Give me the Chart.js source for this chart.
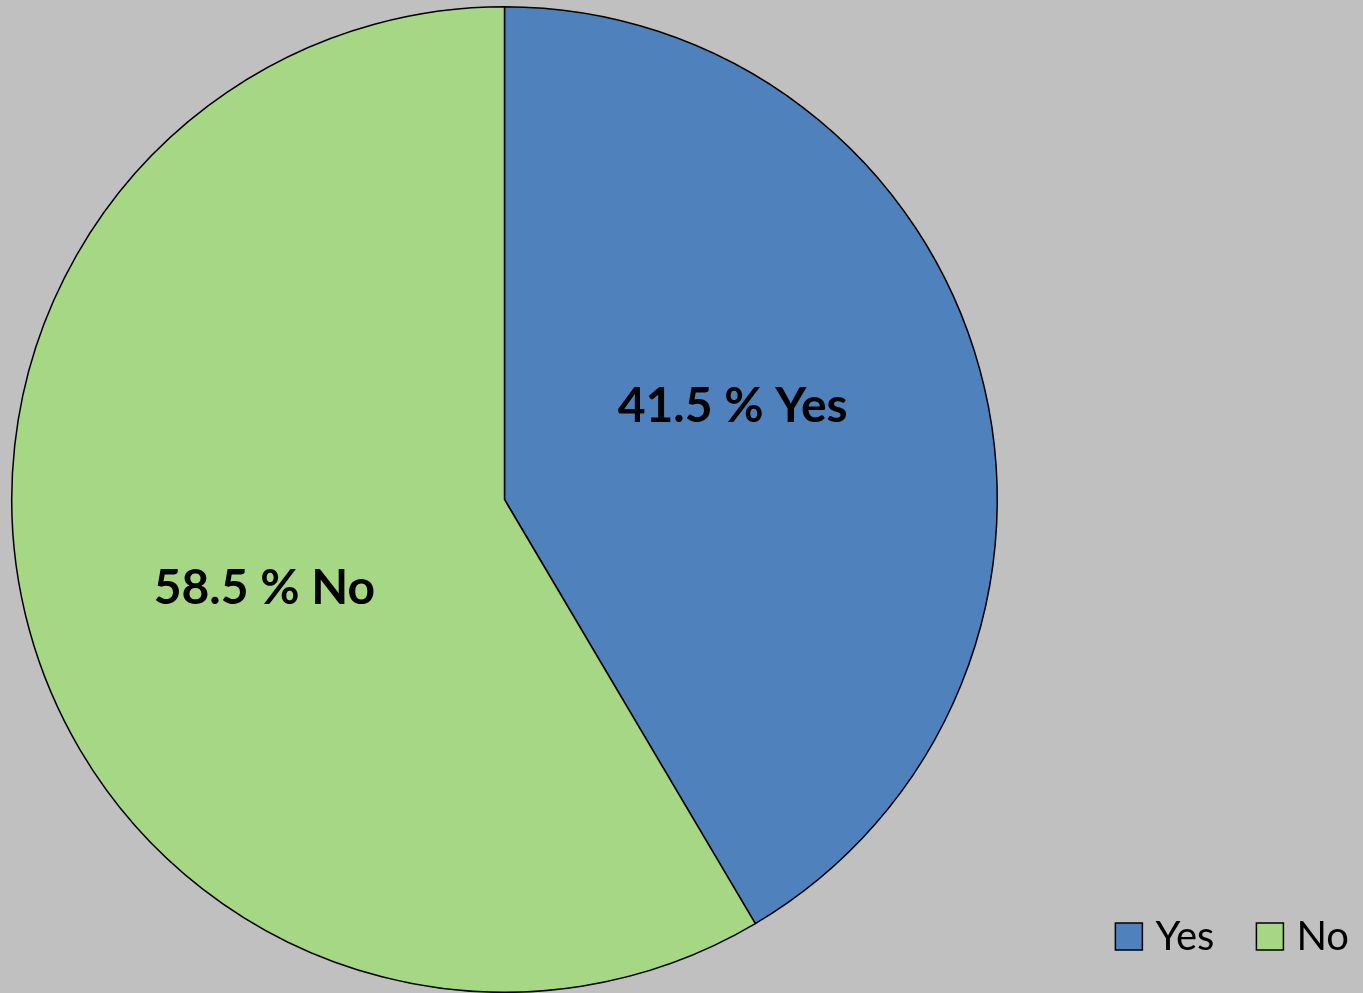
<!DOCTYPE html>
<html>
<head>
<meta charset="utf-8">
<script src="https://cdn.jsdelivr.net/npm/chart.js@4"></script>
<style>
  html, body { margin: 0; padding: 0; background: #c0c0c0; }
  #wrap { width: 1363px; height: 993px; }
</style>
</head>
<body>
<div id="wrap"><canvas id="pie"></canvas></div>
<script>
// Données du graphique
const categories = ["Yes", "No"];
const percents = [41.5, 58.5];
const sliceColors = ["#4f81bd", "#a6d785"];

// Étiquettes dans les parts : "41.5 % Yes"
const sliceLabels = {
  id: "sliceLabels",
  afterDatasetsDraw(chart) {
    const ctx = chart.ctx;
    const meta = chart.getDatasetMeta(0);
    ctx.save();
    ctx.font = "bold 48px Lato";
    ctx.fillStyle = "#000";
    ctx.textAlign = "center";
    ctx.textBaseline = "middle";
    meta.data.forEach((arc, i) => {
      const p = arc.getProps(["x", "y", "startAngle", "endAngle", "outerRadius"], true);
      // un peu avant le milieu de la part
      const mid = (p.startAngle + p.endAngle) / 2 - 6 * Math.PI / 180;
      const r = p.outerRadius * 0.51;
      const x = p.x + Math.cos(mid) * r - 6;
      const y = p.y + Math.sin(mid) * r - 2;
      ctx.fillText(percents[i].toFixed(1) + " % " + categories[i], x, y);
    });
    ctx.restore();
  }
};

// Légende en bas à droite, sur une ligne
const cornerLegend = {
  id: "cornerLegend",
  afterDraw(chart) {
    const ctx = chart.ctx;
    const box = 27, gapText = 13, gapItem = 42;
    const right = chart.width - 14;
    const baseline = 950;
    ctx.save();
    ctx.font = "40px Lato";
    const widths = categories.map(c => ctx.measureText(c).width);
    let total = 0;
    widths.forEach((w, i) => { total += box + gapText + w + (i ? gapItem : 0); });
    let x = right - total;
    categories.forEach((c, i) => {
      ctx.fillStyle = sliceColors[i];
      ctx.fillRect(x, baseline - box, box, box);
      ctx.strokeStyle = "#000";
      ctx.lineWidth = 1.5;
      ctx.strokeRect(x, baseline - box, box, box);
      ctx.fillStyle = "#000";
      ctx.textBaseline = "alphabetic";
      ctx.fillText(c, x + box + gapText, baseline);
      x += box + gapText + widths[i] + gapItem;
    });
    ctx.restore();
  }
};

const ctx = document.getElementById("pie").getContext("2d");
new Chart(ctx, {
  type: "pie",
  data: {
    labels: categories,
    datasets: [{
      data: percents,
      backgroundColor: sliceColors,
      borderColor: "#000",
      borderWidth: 1.5
    }]
  },
  options: {
    responsive: true,
    maintainAspectRatio: false,
    animation: false,
    layout: { padding: { left: 11, top: 6, right: 365, bottom: 0 } },
    plugins: {
      legend: { display: false },
      tooltip: { enabled: false }
    }
  },
  plugins: [sliceLabels, cornerLegend]
});
</script>
</body>
</html>
